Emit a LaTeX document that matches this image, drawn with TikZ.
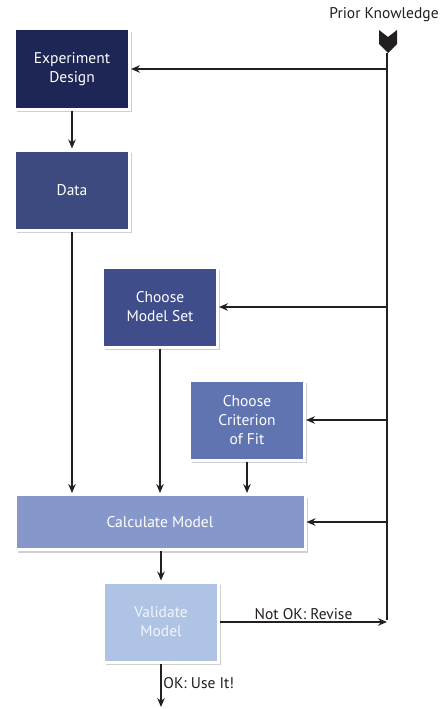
\documentclass[tikz,border=0pt]{standalone}
\usepackage{fontspec}
\setmainfont{PT Sans}
\usetikzlibrary{arrows.meta,shadows,positioning}
\definecolor{cA}{HTML}{1D2654}
\definecolor{cB}{HTML}{3D4A80}
\definecolor{cC}{HTML}{3F4D8A}
\definecolor{cD}{HTML}{6074B2}
\definecolor{cE}{HTML}{8698CB}
\definecolor{cF}{HTML}{AFC3E5}
\definecolor{ink}{HTML}{231F20}
\tikzset{
  box/.style={draw=white, line width=3pt, text=white, align=center,
    font=\fontsize{15.5}{19}\selectfont, inner sep=0pt,
    minimum width=115pt, minimum height=80pt,
    drop shadow={shadow xshift=2.5pt, shadow yshift=-3pt, opacity=0.3, fill=black!60}},
  conn/.style={draw=ink, line width=1.8pt, -{Stealth[length=9pt,width=7.5pt,inset=3pt]}},
  plain/.style={draw=ink, line width=1.8pt},
  lab/.style={text=ink, font=\fontsize{15.5}{18}\selectfont, inner sep=1.5pt}
}
\begin{document}
\begin{tikzpicture}[x=1pt,y=-1pt]
\useasboundingbox[fill=white] (0,0) rectangle (441,709);
\node[box, fill=cA] (ed) at (72,69) {Experiment\\Design};
\node[box, fill=cB] (data) at (72,190) {Data};
\node[box, fill=cC] (ms) at (160,307) {Choose\\Model Set};
\node[box, fill=cD] (crit) at (247,420) {Choose\\Criterion\\of Fit};
\node[box, fill=cE, minimum width=290pt, minimum height=55pt] (calc) at (160,522) {Calculate Model};
\node[box, fill=cF, text=white!85!cF] (val) at (161,622) {Validate\\Model};
\node[lab] (pk) at (384,15) {Prior Knowledge};
\coordinate (top) at (387,53);
\coordinate (bot) at (387,620);
\coordinate (out) at (161,707);
\fill[ink] (379,30) -- (388,37) -- (397,30) -- (397,44) -- (388,53) -- (379,44) -- cycle;
\draw[plain] (top) -- (bot);
\draw[conn] (top |- ed.east) -- (ed.east);
\draw[conn] (top |- ms.east) -- (ms.east);
\draw[conn] (top |- crit.east) -- (crit.east);
\draw[conn] (top |- calc.east) -- (calc.east);
\draw[conn] (ed) -- (data);
\draw[conn] (data.south) -- (data.south |- calc.north);
\draw[conn] (ms.south) -- (ms.south |- calc.north);
\draw[conn] (crit.south) -- (crit.south |- calc.north);
\draw[conn] (calc.south -| val.north) -- (val.north);
\draw[conn] (val.east) -- node[lab, above] {Not OK: Revise} (val.east -| bot);
\draw[conn] (val.south) -- node[lab, right, pos=0.45] {OK: Use It!} (out);
\end{tikzpicture}
\end{document}
